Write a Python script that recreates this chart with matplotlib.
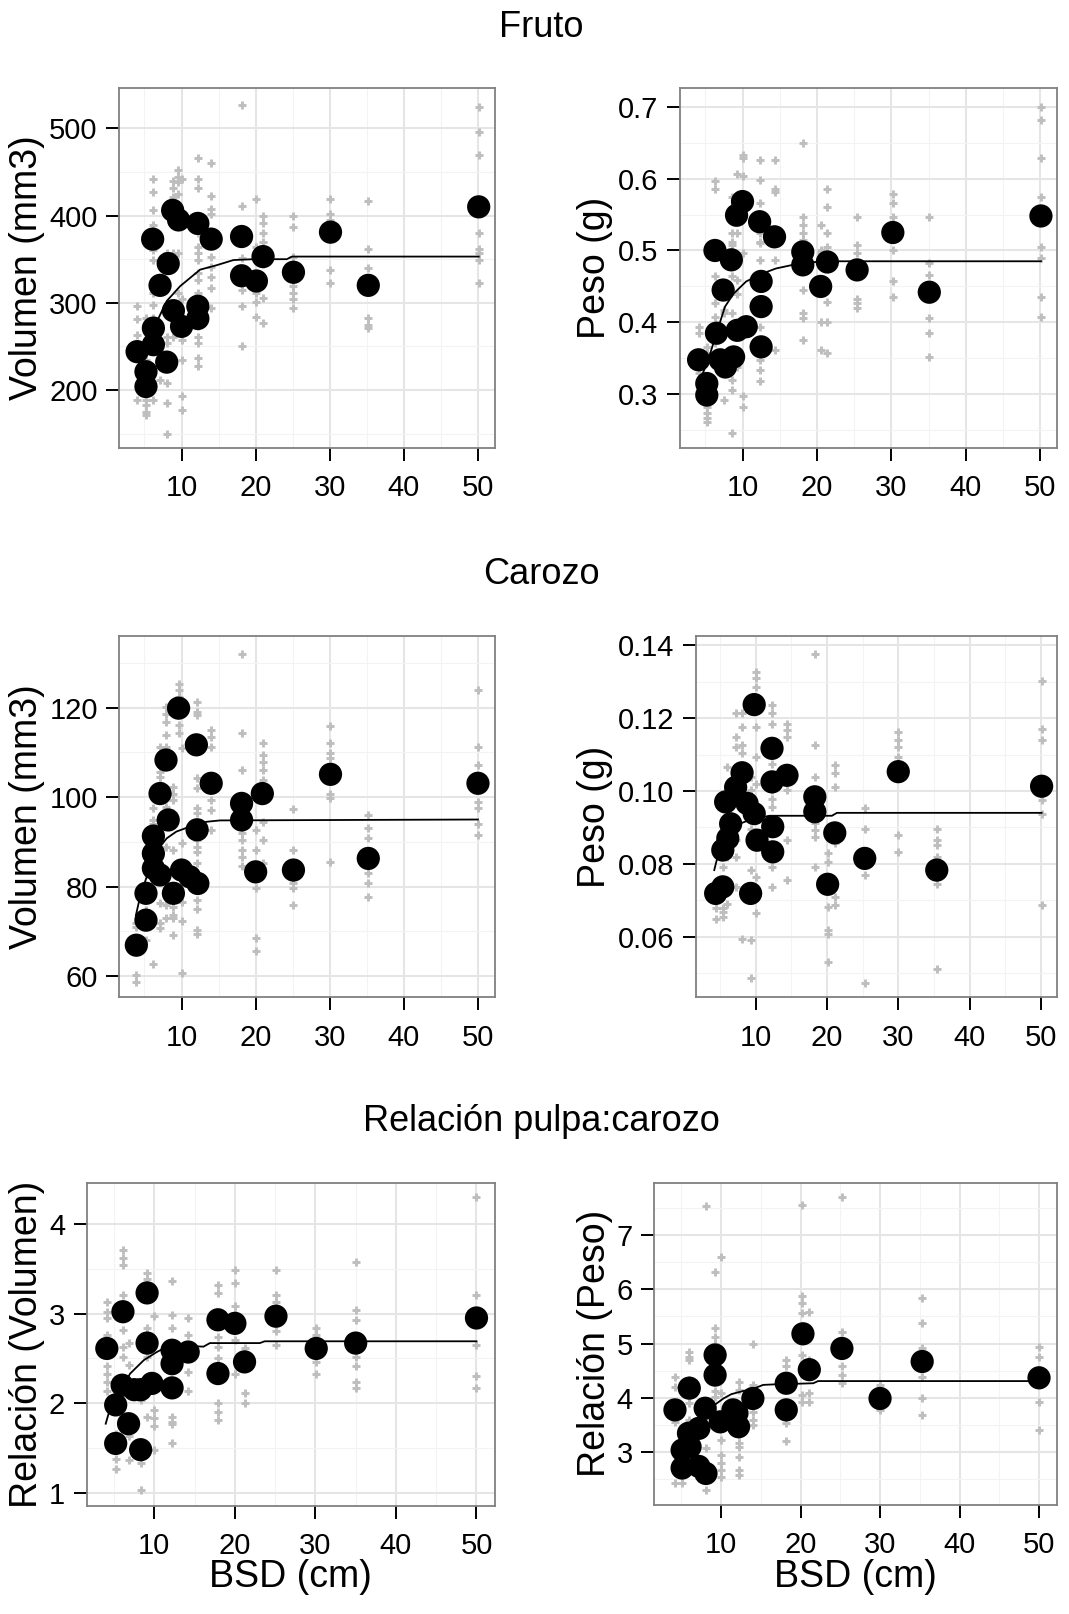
import matplotlib
matplotlib.use("Agg")
import matplotlib.pyplot as plt

plt.rcParams['font.family'] = ['Liberation Sans', 'DejaVu Sans']

W, H = 1069, 1614

# ---- Fruto: volumen (mm3) ----
fv_mean_x = [4.0, 5.2, 5.2, 6.2, 6.2, 6.1, 7.1, 8.2, 8.0, 8.9, 8.8, 9.6, 10.0,
             12.2, 12.2, 12.2, 14.0, 18.1, 18.1, 20.1, 21.0, 25.1, 30.1, 35.2, 50.1]
fv_mean_y = [244, 204, 221, 271, 252, 373, 320, 345, 232, 291, 406, 395, 273,
             296, 282, 391, 373, 376, 331, 325, 353, 335, 381, 320, 410]
fv_obs = [(4.0, [296, 282, 263, 189]),
          (5.2, [283, 189, 183, 175, 171, 220, 235]),
          (6.1, [442, 427, 406, 389, 380, 360, 349, 311, 298, 283, 189]),
          (7.1, [212, 255]),
          (8.0, [357, 349, 261, 254, 208, 185, 150]),
          (8.8, [440, 432, 421, 413, 357, 261]),
          (9.5, [452, 444, 438, 425, 410, 357, 311]),
          (10.0, [442, 304, 257, 235, 193, 177]),
          (12.2, [466, 442, 432, 380, 364, 357, 349, 334, 326, 311, 288, 273, 261, 254, 237, 227]),
          (14.0, [460, 423, 408, 402, 353, 341, 330, 317, 294]),
          (18.1, [527, 411, 368, 351, 315, 296, 250]),
          (20.1, [419, 364, 311, 301, 284]),
          (21.0, [400, 391, 380, 370, 359, 345, 305, 277]),
          (25.1, [400, 387, 353, 319, 311, 304, 294]),
          (30.1, [419, 402, 395, 338, 323]),
          (35.2, [417, 362, 340, 283, 275, 271]),
          (50.1, [525, 496, 469, 380, 362, 357, 349, 323])]
fv_fit_x = [6.7, 8.0, 9.8, 12.5, 14.7, 17.0, 19.7, 24.2, 24.9, 50.1]
fv_fit_y = [279, 302, 319, 338, 343, 349, 350, 350, 353, 353]

# ---- Fruto: peso (g) ----
fp_mean_x = [4.1, 5.2, 5.2, 6.3, 6.5, 7.0, 7.4, 7.7, 8.5, 8.8, 9.2, 9.3, 10.0,
             10.5, 12.3, 12.5, 12.5, 12.5, 14.3, 18.1, 18.1, 20.5, 21.4, 25.4, 30.2, 35.1, 50.1]
fp_mean_y = [0.348, 0.315, 0.299, 0.500, 0.385, 0.348, 0.445, 0.338, 0.487, 0.352, 0.549,
             0.389, 0.568, 0.394, 0.540, 0.457, 0.422, 0.366, 0.519, 0.498, 0.480, 0.450,
             0.484, 0.473, 0.525, 0.442, 0.548]
fp_obs = [(4.1, [0.394, 0.385, 0.329]),
          (5.2, [0.283, 0.274, 0.267, 0.262, 0.357, 0.366]),
          (6.3, [0.596, 0.586, 0.464, 0.427, 0.408, 0.371]),
          (7.5, [0.417, 0.413, 0.292]),
          (8.6, [0.575, 0.524, 0.512, 0.508, 0.464, 0.413, 0.348, 0.320, 0.306, 0.246]),
          (9.3, [0.607, 0.552, 0.524, 0.487, 0.459, 0.440, 0.348, 0.338]),
          (10.0, [0.633, 0.628, 0.603, 0.496, 0.297, 0.283]),
          (12.3, [0.626, 0.598, 0.566, 0.524, 0.512, 0.510, 0.487, 0.417, 0.394, 0.348, 0.334, 0.318]),
          (14.3, [0.626, 0.586, 0.582, 0.487, 0.362]),
          (18.1, [0.649, 0.547, 0.535, 0.524, 0.515, 0.445, 0.413, 0.406, 0.376]),
          (20.5, [0.535, 0.501, 0.496, 0.401, 0.362]),
          (21.4, [0.586, 0.561, 0.524, 0.505, 0.429, 0.401, 0.357]),
          (25.4, [0.547, 0.508, 0.496, 0.433, 0.427, 0.420]),
          (30.2, [0.579, 0.566, 0.547, 0.501, 0.457, 0.436]),
          (35.1, [0.547, 0.482, 0.466, 0.406, 0.385, 0.352]),
          (50.1, [0.700, 0.681, 0.628, 0.575, 0.505, 0.489, 0.436, 0.408])]
fp_fit_x = [4.3, 5.4, 6.5, 7.65, 8.8, 10.5, 12.7, 14.5, 17.2, 19.8, 22.5, 50.1]
fp_fit_y = [0.320, 0.348, 0.385, 0.422, 0.440, 0.457, 0.468, 0.475, 0.481, 0.484, 0.485, 0.485]

# ---- Carozo: volumen (mm3) ----
cv_mean_x = [3.9, 5.2, 5.2, 6.2, 6.2, 6.2, 7.1, 7.1, 7.9, 8.2, 8.9, 9.6, 10.0,
             11.1, 12.0, 12.2, 12.1, 14.0, 18.1, 18.1, 20.0, 20.9, 25.1, 30.1, 35.2, 50.0]
cv_mean_y = [66.9, 72.5, 78.5, 91.3, 87.4, 84.1, 82.6, 100.8, 108.3, 94.9, 78.5, 119.9, 83.7,
             82.2, 111.7, 80.7, 92.7, 103.1, 98.6, 94.9, 83.3, 100.8, 83.7, 105.1, 86.3, 103.1]
cv_obs = [(3.9, [60.2, 58.7, 71.8, 71.0]),
          (5.2, [77.7, 74.8, 68.1]),
          (6.2, [97.5, 94.9, 94.1, 88.9, 86.7, 62.8]),
          (7.1, [111.3, 105.7, 104.6, 103.1, 76.3, 71.8, 70.7]),
          (7.9, [120.2, 118.7, 116.9, 113.9, 111.3, 101.6, 97.9, 88.9, 75.9, 72.9]),
          (8.9, [102.3, 100.8, 99.4, 96.4, 88.2, 79.2, 75.5, 73.6, 72.9, 69.2]),
          (9.6, [125.4, 123.9, 122.5, 116.1, 114.3]),
          (10.0, [110.9, 89.7, 76.6, 72.2, 60.6]),
          (12.1, [121.3, 119.1, 118.4, 104.2, 102.0, 97.5, 96.4, 91.9, 90.4, 88.9, 87.8, 85.2, 77.0, 75.1, 70.3, 69.5]),
          (14.0, [115.0, 113.5, 111.3, 99.4, 97.1, 92.7]),
          (18.1, [132.1, 114.3, 106.1, 91.9, 90.4, 88.2, 86.7, 84.5]),
          (20.0, [92.7, 88.2, 79.6, 68.4, 65.5]),
          (21.0, [112.0, 109.4, 107.9, 106.1, 103.8, 94.5, 90.4, 85.2]),
          (25.1, [97.3, 88.2, 80.7, 79.6, 75.9]),
          (30.1, [115.8, 112.0, 109.8, 108.7, 100.8, 99.7, 85.6]),
          (35.2, [96.0, 93.0, 90.8, 83.0, 80.7, 77.7]),
          (50.0, [124.0, 111.3, 107.2, 99.0, 97.5, 94.1, 91.5])]
cv_fit_x = [3.84, 4.4, 5.3, 6.2, 7.1, 8.0, 9.3, 11.1, 13.4, 15.2, 50.0]
cv_fit_y = [73.6, 77.7, 82.2, 85.9, 88.9, 90.8, 92.3, 93.4, 94.5, 94.8, 95.0]

# ---- Carozo: peso (g) ----
cp_mean_x = [4.4, 5.4, 5.4, 6.1, 5.8, 6.5, 7.2, 8.1, 8.8, 9.8, 9.3, 9.8, 10.2,
             12.3, 12.3, 12.4, 12.4, 14.4, 18.3, 18.3, 20.1, 21.1, 25.3, 30.0, 35.4, 50.1]
cp_mean_y = [0.0719, 0.0737, 0.0838, 0.0870, 0.0970, 0.0910, 0.1010, 0.1050, 0.0966, 0.0938,
             0.0719, 0.1237, 0.0865, 0.1117, 0.1025, 0.0902, 0.0833, 0.1043, 0.0984, 0.0943,
             0.0744, 0.0885, 0.0815, 0.1053, 0.0783, 0.1013]
cp_obs = [(4.4, [0.0678, 0.0650, 0.0746]),
          (5.4, [0.0792, 0.0678, 0.0669, 0.0655]),
          (6.0, [0.1066, 0.0819, 0.0691]),
          (7.2, [0.1213, 0.1149, 0.1121, 0.0865, 0.0819, 0.0737]),
          (8.1, [0.1213, 0.1176, 0.1126, 0.1103, 0.1030, 0.0595]),
          (9.3, [0.1039, 0.1002, 0.0897, 0.0783, 0.0591, 0.0486]),
          (10.0, [0.1327, 0.1309, 0.1286, 0.1176, 0.1094, 0.1020, 0.0765, 0.0664]),
          (12.3, [0.1235, 0.1213, 0.1185, 0.1075, 0.1002, 0.0979, 0.0957, 0.0792, 0.0737]),
          (14.4, [0.1185, 0.1167, 0.1149, 0.1002, 0.0865, 0.0755]),
          (18.3, [0.1377, 0.1126, 0.1039, 0.0911, 0.0893, 0.0874, 0.0792]),
          (20.1, [0.0829, 0.0806, 0.0682, 0.0618, 0.0609, 0.0531]),
          (21.1, [0.1071, 0.1048, 0.1011, 0.0856, 0.0710, 0.0687]),
          (25.3, [0.0952, 0.0897, 0.0769, 0.0472]),
          (30.0, [0.1162, 0.1139, 0.1121, 0.1094, 0.0879, 0.0833]),
          (35.4, [0.0897, 0.0865, 0.0851, 0.0819, 0.0746, 0.0513]),
          (50.1, [0.1301, 0.1171, 0.1139, 0.0975, 0.0938, 0.0687])]
cp_fit_x = [4.2, 4.66, 5.8, 7.2, 9.1, 11.9, 15.1, 20.7, 21.4, 50.1]
cp_fit_y = [0.0783, 0.0819, 0.0874, 0.0906, 0.0920, 0.0932, 0.0932, 0.0932, 0.0940, 0.0940]

# ---- Relacion pulpa:carozo (volumen) ----
rv_mean_x = [4.1, 6.1, 5.2, 5.2, 6.0, 6.8, 8.3, 9.1, 9.1, 8.3, 7.5, 9.7, 12.2, 12.2, 12.2,
             14.2, 17.9, 17.9, 20.0, 21.2, 25.1, 30.1, 35.0, 50.0]
rv_mean_y = [2.61, 3.02, 1.55, 1.98, 2.20, 1.77, 1.48, 3.23, 2.67, 2.15, 2.15, 2.22, 2.59, 2.44,
             2.17, 2.57, 2.93, 2.33, 2.89, 2.46, 2.97, 2.61, 2.67, 2.95]
rv_obs = [(4.1, [3.13, 3.02, 2.95, 2.76, 2.41, 2.33, 2.24, 2.13]),
          (5.2, [1.38, 1.27, 1.66, 2.26]),
          (6.1, [3.71, 3.62, 3.54, 3.21, 2.82, 2.63, 2.52]),
          (6.9, [2.67, 2.43, 1.63, 1.37]),
          (8.3, [2.63, 2.24, 2.03, 1.33, 1.03]),
          (9.1, [3.45, 3.39, 2.84, 2.52, 1.85]),
          (10.0, [2.97, 1.92, 1.83, 1.74, 1.48]),
          (12.2, [3.36, 2.98, 2.84, 2.54, 1.85, 1.79, 1.77, 1.55]),
          (14.2, [2.95, 2.76, 2.35, 2.13]),
          (17.9, [3.32, 3.23, 2.74, 2.63, 2.50, 2.00, 1.90, 1.81]),
          (20.0, [3.49, 3.34, 3.08, 3.00, 2.70, 2.33]),
          (21.2, [2.61, 2.11, 2.00]),
          (25.1, [3.49, 3.21, 3.13, 2.80, 2.65]),
          (30.1, [2.84, 2.76, 2.46, 2.33]),
          (35.0, [3.58, 3.04, 2.93, 2.52, 2.41, 2.24, 2.17]),
          (50.0, [4.30, 3.21, 2.65, 2.30, 2.17])]
rv_fit_x = [3.96, 4.57, 5.8, 7.0, 8.7, 10.3, 11.6, 14.0, 16.1, 16.9, 23.1, 23.7, 50.0]
rv_fit_y = [1.77, 1.96, 2.15, 2.33, 2.48, 2.57, 2.63, 2.64, 2.63, 2.67, 2.67, 2.69, 2.69]

# ---- Relacion pulpa:carozo (peso) ----
rp_mean_x = [4.2, 6.0, 5.1, 5.1, 6.1, 5.9, 7.2, 7.2, 8.1, 8.0, 9.25, 9.25, 9.9, 11.5, 12.2,
             12.0, 14.0, 18.2, 18.2, 20.3, 21.1, 25.2, 30.0, 35.3, 50.0]
rp_mean_y = [3.78, 4.18, 2.71, 3.04, 3.10, 3.35, 3.44, 2.74, 2.61, 3.81, 4.79, 4.42, 3.56, 3.78,
             3.47, 3.72, 3.99, 4.27, 3.78, 5.18, 4.52, 4.91, 3.99, 4.67, 4.37]
rp_obs = [(4.2, [4.39, 4.21, 3.56, 2.43]),
          (5.1, [2.64, 2.43]),
          (6.0, [4.85, 4.76, 4.70, 4.33, 3.90, 3.60]),
          (7.2, [2.80, 2.52]),
          (8.1, [7.53, 3.07, 2.31]),
          (9.2, [6.31, 5.28, 5.13, 5.00, 4.12, 4.02, 3.72]),
          (10.0, [6.60, 4.09, 3.23, 2.95, 2.80, 2.68, 2.55]),
          (12.2, [4.30, 4.15, 3.32, 3.17, 3.10, 2.92, 2.67, 2.58]),
          (14.0, [4.99, 4.24, 3.75, 3.60, 3.50]),
          (18.2, [4.70, 4.58, 3.53, 3.20]),
          (20.2, [7.55, 5.87, 5.74, 5.56, 4.79, 4.06, 3.93]),
          (21.0, [5.59, 4.70, 4.09, 3.93]),
          (25.2, [7.69, 5.22, 4.58, 4.42, 4.27]),
          (30.0, [4.24, 3.78]),
          (35.3, [5.83, 5.37, 4.91, 4.39, 3.99, 3.69]),
          (50.0, [4.94, 4.76, 4.52, 3.93, 3.41])]
rp_fit_x = [9.17, 10.3, 11.3, 12.6, 14.25, 15.3, 16.8, 19.3, 21.6, 22.2, 50.0]
rp_fit_y = [3.87, 3.99, 4.07, 4.12, 4.18, 4.24, 4.25, 4.26, 4.27, 4.31, 4.31]

x_ticks = [10, 20, 30, 40, 50]
x_minor = [5, 15, 25, 35, 45]

section_titles = ["Fruto", "Carozo", "Relación pulpa:carozo"]

# panel boxes in pixels: left, right, top, bottom
panels = [
    dict(box=(119.3, 495, 88.3, 447.7), obs=fv_obs, mx=fv_mean_x, my=fv_mean_y,
         fx=fv_fit_x, fy=fv_fit_y, ylim=(133.9, 545.9), yt=[200, 300, 400, 500],
         ytl=["200", "300", "400", "500"], ym=[150, 250, 350, 450],
         ylabel="Volumen (mm3)", lx=27.5, xlabel=False),
    dict(box=(680, 1057.3, 88.3, 447.7), obs=fp_obs, mx=fp_mean_x, my=fp_mean_y,
         fx=fp_fit_x, fy=fp_fit_y, ylim=(0.2258, 0.7255), yt=[0.3, 0.4, 0.5, 0.6, 0.7],
         ytl=["0.3", "0.4", "0.5", "0.6", "0.7"], ym=[0.25, 0.35, 0.45, 0.55, 0.65],
         ylabel="Peso (g)", lx=595, xlabel=False),
    dict(box=(119.3, 495, 635.7, 997.3), obs=cv_obs, mx=cv_mean_x, my=cv_mean_y,
         fx=cv_fit_x, fy=cv_fit_y, ylim=(55.25, 136.1), yt=[60, 80, 100, 120],
         ytl=["60", "80", "100", "120"], ym=[70, 90, 110, 130],
         ylabel="Volumen (mm3)", lx=27.5, xlabel=False),
    dict(box=(695.7, 1057.3, 635.7, 997.3), obs=cp_obs, mx=cp_mean_x, my=cp_mean_y,
         fx=cp_fit_x, fy=cp_fit_y, ylim=(0.0434, 0.1426), yt=[0.06, 0.08, 0.10, 0.12, 0.14],
         ytl=["0.06", "0.08", "0.10", "0.12", "0.14"], ym=[0.05, 0.07, 0.09, 0.11, 0.13],
         ylabel="Peso (g)", lx=595, xlabel=False),
    dict(box=(86.7, 495, 1182.7, 1505.7), obs=rv_obs, mx=rv_mean_x, my=rv_mean_y,
         fx=rv_fit_x, fy=rv_fit_y, ylim=(0.855, 4.46), yt=[1, 2, 3, 4],
         ytl=["1", "2", "3", "4"], ym=[1.5, 2.5, 3.5],
         ylabel="Relación (Volumen)", lx=27.5, xlabel=True),
    dict(box=(654.3, 1057.3, 1182.7, 1505), obs=rp_obs, mx=rp_mean_x, my=rp_mean_y,
         fx=rp_fit_x, fy=rp_fit_y, ylim=(2.03, 7.96), yt=[3, 4, 5, 6, 7],
         ytl=["3", "4", "5", "6", "7"], ym=[2.5, 3.5, 4.5, 5.5, 6.5, 7.5],
         ylabel="Relación (Peso)", lx=595, xlabel=True),
]

fig = plt.figure(figsize=(W / 100, H / 100), dpi=100)

for p in panels:
    l, r, t, b = p["box"]
    ax = fig.add_axes([l / W, 1 - b / H, (r - l) / W, (b - t) / H])
    ax.set_xlim(1.6, 52.3)
    ax.set_ylim(*p["ylim"])
    ax.set_xticks(x_ticks)
    ax.set_xticks(x_minor, minor=True)
    ax.set_yticks(p["yt"])
    ax.set_yticklabels(p["ytl"])
    ax.set_yticks(p["ym"], minor=True)
    ax.grid(True, which="major", color="#e5e5e5", lw=1.45, zorder=0)
    ax.grid(True, which="minor", color="#f3f3f3", lw=0.8, zorder=0)
    ax.set_axisbelow(True)
    for s in ax.spines.values():
        s.set_color("#808080")
        s.set_linewidth(1.3)
    ax.tick_params(which="major", length=9.5, width=1.4, color="black",
                   labelsize=21, pad=6)
    ax.tick_params(axis="x", pad=9.5)
    ax.tick_params(which="minor", length=0)

    for xv, ys in p["obs"]:
        ax.plot([xv] * len(ys), ys, ls="none", marker="+", ms=6.2, mew=2.1,
                color="#bebebe", zorder=2)
    ax.scatter(p["mx"], p["my"], s=280, color="black", edgecolors="none", zorder=3)
    ax.plot(p["fx"], p["fy"], color="black", lw=1.3, zorder=4)

    fig.text(p["lx"] / W, 1 - (t + b) / 2 / H, p["ylabel"], rotation=90,
             ha="center", va="center", fontsize=27)
    if p["xlabel"]:
        fig.text((l + r) / 2 / W, 1 - 1577 / H, "BSD (cm)", ha="center",
                 va="center", fontsize=27)

for title, base in zip(section_titles, [37, 584, 1131]):
    fig.text(541 / W, 1 - base / H, title, ha="center", va="baseline", fontsize=26)

fig.savefig("out.png", dpi=100)
